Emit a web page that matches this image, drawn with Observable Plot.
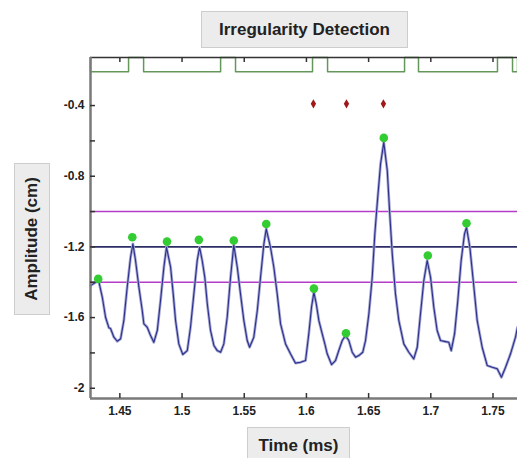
<!DOCTYPE html>
<html><head><meta charset="utf-8">
<script src="https://cdn.jsdelivr.net/npm/d3@7"></script>
<script src="https://cdn.jsdelivr.net/npm/@observablehq/plot@0.6"></script>
<style>
body{margin:0;background:#fff;font-family:"Liberation Sans",Arial,sans-serif;}
#wrap{position:relative;width:517px;height:458px;overflow:hidden;background:#fff;}
#wrap svg{position:absolute;left:0;top:0;}
.box{position:absolute;background:#ececec;border:1.5px solid #cdcdcd;box-sizing:border-box;font-weight:bold;font-size:17px;color:#222;display:flex;align-items:center;justify-content:center;white-space:nowrap;}
.box span.rot{display:inline-block;transform:rotate(-90deg);}
</style></head><body>
<div id="wrap"></div>
<script>
// ---- data ----
const timeMs = [1.4264,1.4329,1.4359,1.4385,1.4412,1.4425,1.4452,1.4479,1.4506,1.4532,1.4559,1.4586,1.4605,1.4626,1.4653,1.4680,1.4693,1.4707,1.4720,1.4747,1.4773,1.4801,1.4827,1.4854,1.4875,1.4908,1.4929,1.4948,1.4974,1.5006,1.5042,1.5068,1.5095,1.5122,1.5141,1.5162,1.5183,1.5203,1.5229,1.5256,1.5283,1.5310,1.5336,1.5363,1.5390,1.5416,1.5444,1.5470,1.5497,1.5524,1.5543,1.5577,1.5605,1.5631,1.5658,1.5677,1.5711,1.5738,1.5765,1.5792,1.5832,1.5872,1.5912,1.5953,1.5993,1.6019,1.6041,1.6060,1.6079,1.6100,1.6127,1.6148,1.6167,1.6202,1.6234,1.6260,1.6288,1.6314,1.6341,1.6368,1.6395,1.6421,1.6453,1.6475,1.6502,1.6529,1.6550,1.6569,1.6596,1.6622,1.6650,1.6670,1.6690,1.6716,1.6743,1.6783,1.6823,1.6863,1.6891,1.6917,1.6944,1.6971,1.6998,1.7024,1.7051,1.7078,1.7118,1.7145,1.7164,1.7191,1.7217,1.7244,1.7271,1.7287,1.7314,1.7341,1.7373,1.7413,1.7453,1.7494,1.7534,1.7568,1.7601,1.7641,1.7681,1.7697];
const amplitude = [-1.419,-1.390,-1.485,-1.598,-1.658,-1.662,-1.711,-1.734,-1.720,-1.617,-1.428,-1.259,-1.183,-1.277,-1.428,-1.560,-1.635,-1.645,-1.655,-1.702,-1.740,-1.673,-1.504,-1.315,-1.202,-1.315,-1.466,-1.617,-1.749,-1.809,-1.787,-1.655,-1.466,-1.277,-1.202,-1.277,-1.372,-1.522,-1.673,-1.758,-1.787,-1.796,-1.749,-1.598,-1.372,-1.188,-1.315,-1.466,-1.617,-1.730,-1.768,-1.711,-1.560,-1.372,-1.183,-1.098,-1.202,-1.315,-1.466,-1.635,-1.749,-1.805,-1.858,-1.853,-1.843,-1.692,-1.541,-1.457,-1.522,-1.617,-1.692,-1.749,-1.805,-1.866,-1.843,-1.787,-1.730,-1.702,-1.730,-1.796,-1.824,-1.815,-1.796,-1.730,-1.579,-1.372,-1.126,-0.956,-0.730,-0.608,-0.768,-1.013,-1.239,-1.466,-1.617,-1.749,-1.796,-1.834,-1.768,-1.579,-1.390,-1.277,-1.372,-1.541,-1.673,-1.730,-1.736,-1.740,-1.787,-1.692,-1.504,-1.277,-1.126,-1.089,-1.202,-1.390,-1.617,-1.768,-1.871,-1.881,-1.890,-1.938,-1.881,-1.805,-1.711,-1.655];

const peakTime = [1.4326,1.4600,1.4879,1.5135,1.5416,1.5677,1.6060,1.6318,1.6622,1.6976,1.7287];
const peakAmp  = [-1.381,-1.145,-1.170,-1.160,-1.164,-1.070,-1.436,-1.689,-0.583,-1.249,-1.066];

const flagTime = [1.6056,1.6322,1.6619];
const flagAmp  = [-0.39,-0.39,-0.39];

const thresholdLevels = [-1.0,-1.4];
const baselineLevel = [-1.2];

const gateLowStart = [1.4264,1.4691,1.5430,1.6170,1.6901,1.7657];
const gateLowEnd   = [1.4570,1.5310,1.6049,1.6789,1.7536,1.7697];
const gateHigh = -0.128, gateLow = -0.208;

const xTicks = [1.45,1.5,1.55,1.6,1.65,1.7,1.75];
const yTicks = [-2,-1.6,-1.2,-0.8,-0.4];
const yMinorTicks = [-1.8,-1.4,-1.0,-0.6];
const xDomain = [1.4264,1.7697];
const yDomain = [-2.058,-0.128];

// ---- build tables ----
const trace = timeMs.map((t,i)=>({t, a: amplitude[i]}));
const peaks = peakTime.map((t,i)=>({t, a: peakAmp[i]}));
const flags = flagTime.map((t,i)=>({t, a: flagAmp[i]}));
const gate = [];
gateLowStart.forEach((s,i)=>{
  const e = gateLowEnd[i];
  gate.push({t:s,v:gateHigh},{t:s,v:gateLow},{t:e,v:gateLow},{t:e,v:gateHigh});
});

const W=517, H=458, mL=90, mR=0, mT=57, mB=60;
const tickLenY = (yDomain[1]-yDomain[0]) * 5/(H-mT-mB);
const tickLenX = (xDomain[1]-xDomain[0]) * 5/(W-mL-mR);
const allY = [...yTicks, ...yMinorTicks];

const chart = Plot.plot({
  width: W, height: H,
  marginLeft: mL, marginRight: mR, marginTop: mT, marginBottom: mB,
  x: {domain: xDomain},
  y: {domain: yDomain},
  style: {fontFamily: "'Liberation Sans', Arial, sans-serif", background: "transparent", overflow: "visible"},
  marks: [
    Plot.ruleY(thresholdLevels, {y: d=>d, stroke: "#b43cc8", strokeWidth: 1.6}),
    Plot.ruleY(baselineLevel, {y: d=>d, stroke: "#2c2c66", strokeWidth: 1.6}),
    Plot.line(gate, {x: "t", y: "v", stroke: "#64985a", strokeWidth: 1.5}),
    Plot.line(trace, {x: "t", y: "a", stroke: "#a6a8d2", strokeWidth: 2.8, strokeLinejoin: "round"}),
    Plot.line(trace, {x: "t", y: "a", stroke: "#2a2f8c", strokeWidth: 1.1, strokeLinejoin: "round"}),
    Plot.dot(peaks, {x: "t", y: "a", r: 4.3, fill: "#33cc33", stroke: null}),
    Plot.dot(flags, {x: "t", y: "a", symbol: "diamond", r: 2.8, fill: "#a01818", stroke: null}),
    // frame
    Plot.ruleY([yDomain[1]], {y: d=>d, stroke: "#333", strokeWidth: 1.5}),
    Plot.ruleX([xDomain[0]], {x: d=>d, stroke: "#7a7a7a", strokeWidth: 2.5}),
    Plot.ruleY([yDomain[0]], {y: d=>d, stroke: "#7a7a7a", strokeWidth: 2.5}),
    // inward ticks
    Plot.ruleX(xTicks, {x: d=>d, y1: yDomain[0], y2: yDomain[0]+tickLenY, stroke: "#333", strokeWidth: 1.5}),
    Plot.ruleX(xTicks, {x: d=>d, y1: yDomain[1], y2: yDomain[1]-tickLenY, stroke: "#333", strokeWidth: 1.5}),
    Plot.ruleY(allY, {y: d=>d, x1: xDomain[0], x2: xDomain[0]+tickLenX, stroke: "#333", strokeWidth: 1.5}),
    Plot.axisX(xTicks, {tickSize: 0, tickPadding: 8, tickFormat: d=>String(d), fontWeight: "bold", fontSize: 12, fill: "#222", label: null}),
    Plot.axisY(yTicks, {tickSize: 0, tickPadding: 6, tickFormat: d=>String(d), fontWeight: "bold", fontSize: 12, fill: "#222", label: null})
  ]
});

const wrap = document.getElementById("wrap");
wrap.appendChild(chart);

function addBox(text, left, top, w, h, rotated){
  const b = document.createElement("div");
  b.className = "box";
  b.style.left = left+"px"; b.style.top = top+"px";
  b.style.width = w+"px"; b.style.height = h+"px";
  const s = document.createElement("span");
  if (rotated) s.className = "rot";
  s.textContent = text;
  b.appendChild(s);
  wrap.appendChild(b);
}
addBox("Irregularity Detection", 201, 11, 207, 37, false);
addBox("Amplitude (cm)", 14, 163, 36, 152, true);
addBox("Time (ms)", 247, 427, 103, 38, false);
</script>
</body></html>
